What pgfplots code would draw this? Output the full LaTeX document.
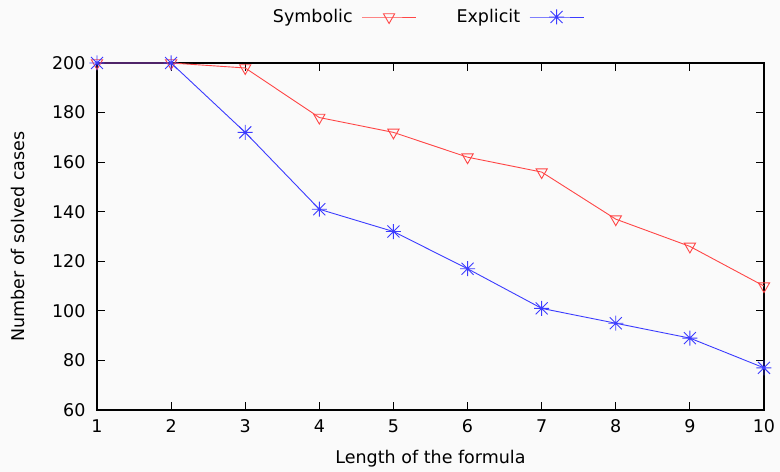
\documentclass[border=0pt]{standalone}
\usepackage{pgfplots}
\pgfplotsset{compat=1.18}
\usepackage{fontspec}
\setmainfont{DejaVu Sans}
\definecolor{bgc}{RGB}{250,250,250}
\definecolor{sred}{RGB}{255,70,70}
\definecolor{sblue}{RGB}{60,60,255}
\pgfdeclareplotmark{gpstar}{%
  \pgfpathmoveto{\pgfqpoint{-\pgfplotmarksize}{0pt}}\pgfpathlineto{\pgfqpoint{\pgfplotmarksize}{0pt}}%
  \pgfpathmoveto{\pgfqpoint{0pt}{-\pgfplotmarksize}}\pgfpathlineto{\pgfqpoint{0pt}{\pgfplotmarksize}}%
  \pgfpathmoveto{\pgfqpoint{-0.8\pgfplotmarksize}{-0.8\pgfplotmarksize}}\pgfpathlineto{\pgfqpoint{0.8\pgfplotmarksize}{0.8\pgfplotmarksize}}%
  \pgfpathmoveto{\pgfqpoint{-0.8\pgfplotmarksize}{0.8\pgfplotmarksize}}\pgfpathlineto{\pgfqpoint{0.8\pgfplotmarksize}{-0.8\pgfplotmarksize}}%
  \pgfusepathqstroke}
\begin{document}
\begin{tikzpicture}[font=\fontsize{17.5bp}{20bp}\selectfont]
\fill[bgc] (-97bp,-62bp) rectangle (683bp,410bp);
\path[use as bounding box] (-97bp,-62bp) rectangle (683bp,410bp);
\begin{axis}[
  at={(0,0)}, anchor=south west,
  scale only axis, width=667bp, height=347bp,
  xmin=1, xmax=10, ymin=60, ymax=200,
  xtick={1,...,10}, ytick={60,80,...,200},
  tick align=inside, major tick length=8bp,
  every tick/.style={black, line width=0.8bp},
  axis line style={line width=1.2bp},
  /pgf/number format/assume math mode=true,
  tick label style={font=\fontsize{17.5bp}{20bp}\selectfont},
  xticklabel style={yshift=-6bp},
  yticklabel style={xshift=-8bp},
  xlabel={Length of the formula},
  ylabel={Number of solved cases},
  every axis x label/.style={at={(axis description cs:0.5,0)}, yshift=-49bp, anchor=center, font=\fontsize{17.5bp}{20bp}\selectfont},
  every axis y label/.style={at={(axis description cs:0,0.5)}, xshift=-79bp, rotate=90, anchor=center, font=\fontsize{17.5bp}{20bp}\selectfont},
  legend columns=2,
  legend plot pos=right,
  legend style={at={(axis description cs:0.5,1)}, anchor=center, yshift=46bp, xshift=-3bp, draw=none, fill=none,
    font=\fontsize{17.5bp}{20bp}\selectfont,
    /tikz/every odd column/.append style={column sep=7bp},
    /tikz/every even column/.append style={column sep=38bp}},
  legend image code/.code={\draw[mark repeat=2,mark phase=2,#1] plot coordinates {(0bp,0bp) (27bp,0bp) (54bp,0bp)};},
]
\addplot[sred, line width=0.9bp, mark=triangle, mark size=6.5bp, mark options={rotate=180, solid, line width=0.9bp}]
coordinates {(1,200) (2,200) (3,198) (4,178) (5,172) (6,162) (7,156) (8,137) (9,126) (10,110)};
\addlegendentry{Symbolic}
\addplot[sblue, line width=0.9bp, mark=gpstar, mark size=7.5bp, mark options={solid, line width=0.9bp}]
coordinates {(1,200) (2,200) (3,172) (4,141) (5,132) (6,117) (7,101) (8,95) (9,89) (10,77)};
\addlegendentry{Explicit}
\end{axis}
\end{tikzpicture}
\end{document}
